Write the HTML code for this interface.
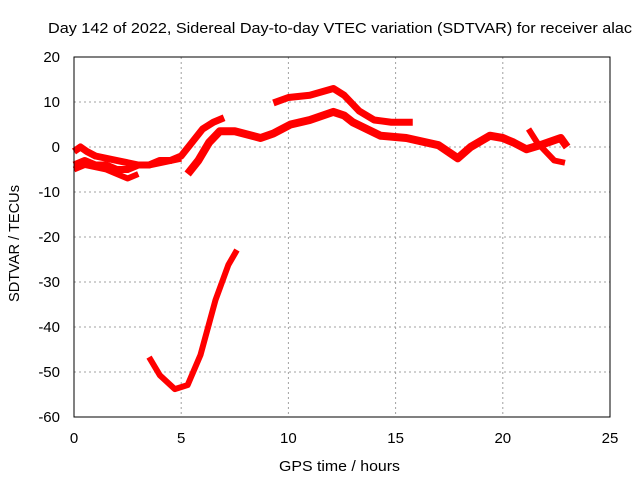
<!DOCTYPE html>
<html><head><meta charset="utf-8"><style>
body{margin:0;background:#fff;}
svg{display:block;font-family:"Liberation Sans",sans-serif;}
</style></head><body>
<svg id="chart" width="640" height="480" viewBox="0 0 640 480">
<text x="48" y="33" font-size="15" textLength="584" lengthAdjust="spacingAndGlyphs">Day 142 of 2022, Sidereal Day-to-day VTEC variation (SDTVAR) for receiver alac</text>
<g id="grid"></g>
<g id="series"></g>
<rect x="74" y="57" width="536" height="360" fill="none" stroke="#000" stroke-width="1"/>
<g id="ticks"></g>
<text x="279" y="471" font-size="15" textLength="121" lengthAdjust="spacingAndGlyphs">GPS time / hours</text>
<text transform="translate(19,302) rotate(-90)" font-size="15" textLength="117" lengthAdjust="spacingAndGlyphs">SDTVAR / TECUs</text>
</svg>
<script>
const xTicks=[0,5,10,15,20,25];
const yTicks=[20,10,0,-10,-20,-30,-40,-50,-60];
const s1Hours=[0,0.5,1,1.5,2,2.5,3,3.5,4,4.5,5,5.5,6,6.5,7];
const s1Vals=[-4,-3,-4,-4,-5,-5,-4,-4,-3,-3,-2,1,4,5.5,6.5];
const s2Hours=[0,0.3,0.6,1,1.5,2,2.5,3,3.5,4,4.5,5];
const s2Vals=[-1,0,-1,-2,-2.5,-3,-3.5,-4,-4,-3.5,-3,-2.5];
const s3Hours=[0,0.5,1,1.5,2,2.5,3];
const s3Vals=[-5,-4,-4.5,-5,-6,-7,-6];
const s4Hours=[5.3,5.8,6.3,6.8,7.5,8.7,9.3,10.1,11,12.1,12.6,13,14.3,15.5,17,17.9,18.5,19.4,20,20.5,21.1,21.8,22.7,23];
const s4Vals=[-6,-3,1,3.5,3.5,2,3,5,6,7.8,7,5.5,2.5,2,0.4,-2.5,0,2.5,2,1,-0.5,0.5,2,0];
const s5Hours=[9.3,10,11,12.1,12.6,13.3,14,14.8,15.8];
const s5Vals=[9.8,11,11.5,13,11.5,8,6,5.5,5.5];
const s6Hours=[21.2,21.6,22,22.4,22.9];
const s6Vals=[4,1,-1,-3,-3.5];
const s7Hours=[3.5,4,4.7,5.3,5.9,6.6,7.2,7.6];
const s7Vals=[-46.7,-50.7,-53.8,-52.9,-46.2,-34,-26.2,-22.9];
const NS='http://www.w3.org/2000/svg';
const X=h=>74+h*536/25, Y=v=>57+(20-v)*4.5;
const grid=document.getElementById('grid'),ticks=document.getElementById('ticks'),ser=document.getElementById('series');
xTicks.forEach(t=>{
 if(t>0&&t<25){const l=document.createElementNS(NS,'line');
 
 
 l.setAttribute('x1',X(t));l.setAttribute('x2',X(t));l.setAttribute('y1',57);l.setAttribute('y2',417);
 l.setAttribute('stroke','#a0a0a0');l.setAttribute('stroke-dasharray','2,3');grid.appendChild(l);}
 const tx=document.createElementNS(NS,'text');
 
 
 tx.setAttribute('x',X(t));tx.setAttribute('y',443);tx.setAttribute('font-size','15');tx.setAttribute('text-anchor','middle');tx.textContent=t;ticks.appendChild(tx);
});
yTicks.forEach(t=>{
 if(t<20&&t>-60){const l=document.createElementNS(NS,'line');
 
 
 l.setAttribute('x1',74);l.setAttribute('x2',610);l.setAttribute('y1',Y(t));l.setAttribute('y2',Y(t));
 l.setAttribute('stroke','#a0a0a0');l.setAttribute('stroke-dasharray','2,3');grid.appendChild(l);}
 const tx=document.createElementNS(NS,'text');
 
 
 tx.setAttribute('x',60);tx.setAttribute('y',Y(t)+5);tx.setAttribute('font-size','15');tx.setAttribute('text-anchor','end');tx.textContent=t;ticks.appendChild(tx);
});
function draw(hs,vs,w,name){
 const p=document.createElementNS(NS,'polyline');
 
 
 p.setAttribute('points',hs.map((h,i)=>X(h)+','+Y(vs[i])).join(' '));
 p.setAttribute('fill','none');p.setAttribute('stroke','#ff0000');p.setAttribute('stroke-width',w);
 p.setAttribute('stroke-linejoin','round');
 ser.appendChild(p);
}
draw(s1Hours,s1Vals,7,'series-a');
draw(s2Hours,s2Vals,7,'series-b');
draw(s3Hours,s3Vals,6,'series-c');
draw(s4Hours,s4Vals,8,'series-d');
draw(s5Hours,s5Vals,7,'series-e');
draw(s6Hours,s6Vals,6,'series-f');
draw(s7Hours,s7Vals,6,'series-g');
</script>
</body></html>
